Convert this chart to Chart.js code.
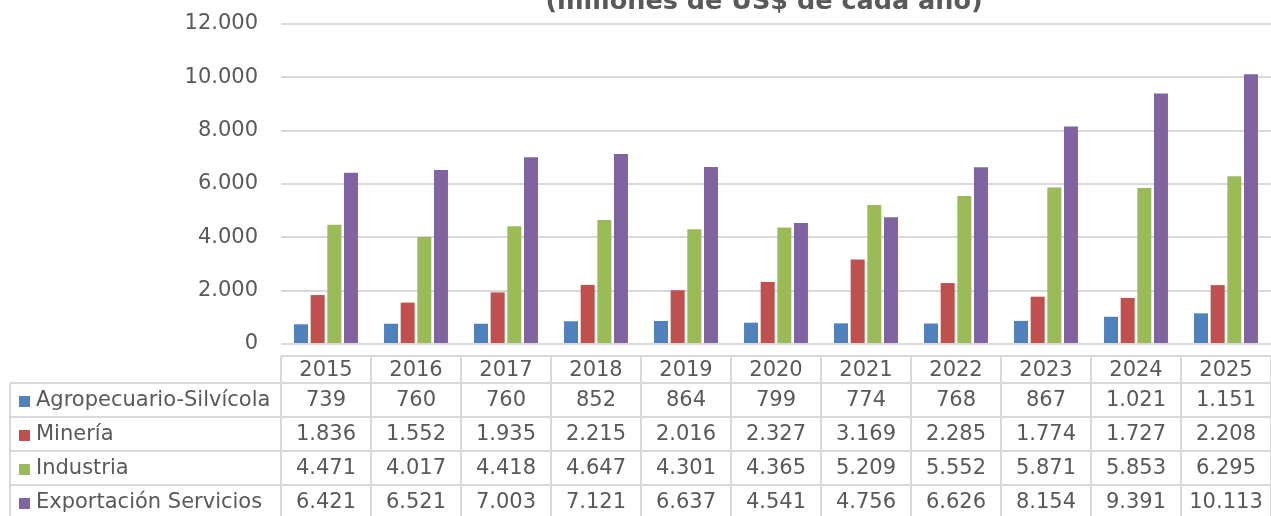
<!DOCTYPE html>
<html>
<head>
<meta charset="utf-8">
<script src="https://cdn.jsdelivr.net/npm/chart.js@4"></script>
<style>
  html, body { margin: 0; padding: 0; background: #fff; }
  #wrap { width: 1271px; height: 516px; position: relative; }
</style>
</head>
<body>
<div id="wrap"><canvas id="exportChart"></canvas></div>
<script>
const years = ["2015", "2016", "2017", "2018", "2019", "2020", "2021", "2022", "2023", "2024", "2025"];
const agro = [739, 760, 760, 852, 864, 799, 774, 768, 867, 1021, 1151];
const mineria = [1836, 1552, 1935, 2215, 2016, 2327, 3169, 2285, 1774, 1727, 2208];
const industria = [4471, 4017, 4418, 4647, 4301, 4365, 5209, 5552, 5871, 5853, 6295];
const servicios = [6421, 6521, 7003, 7121, 6637, 4541, 4756, 6626, 8154, 9391, 10113];
const seriesNames = ["Agropecuario-Silvícola", "Minería", "Industria", "Exportación Servicios"];
const seriesColors = ["#4F81BD", "#C0504D", "#9BBB59", "#8064A2"];
const subtitle = "(millones de US$ de cada año)";

const fmt = v => String(v).replace(/\B(?=(\d{3})+(?!\d))/g, ".");
const FONT = "'DejaVu Sans', Verdana, sans-serif";
const TEXT = "#595959";
const LINE = "#D9D9D9";

// header + data table under the plot, aligned with the x scale
const tablePlugin = {
  id: "dataTable",
  afterDraw(chart) {
    const c = chart.ctx;
    const x = chart.scales.x;
    const n = years.length;
    const colW = x.width / n;
    const left = x.left;
    const right = x.right;
    const headTop = 356;
    const rowsTop = 383;
    const rowH = 34;
    const labelLeft = 10;
    const bottom = rowsTop + rowH * 4 + 10;

    c.save();
    c.strokeStyle = LINE;
    c.lineWidth = 2;
    c.beginPath();
    c.moveTo(left, headTop); c.lineTo(right, headTop);
    for (let r = 0; r <= 4; r++) {
      const y = rowsTop + r * rowH;
      c.moveTo(labelLeft, y); c.lineTo(right, y);
    }
    for (let i = 0; i <= n; i++) {
      const xx = left + i * colW;
      c.moveTo(xx, headTop); c.lineTo(xx, bottom);
    }
    c.moveTo(labelLeft, rowsTop); c.lineTo(labelLeft, bottom);
    c.stroke();

    c.font = "21px " + FONT;
    c.fillStyle = TEXT;
    c.textBaseline = "middle";
    c.textAlign = "center";
    years.forEach((yr, i) => {
      c.fillText(yr, x.getPixelForValue(i), (headTop + rowsTop) / 2 + 1);
    });
    chart.data.datasets.forEach((ds, r) => {
      const cy = rowsTop + r * rowH + 18;
      c.textAlign = "center";
      c.fillStyle = TEXT;
      ds.data.forEach((v, i) => {
        c.fillText(fmt(v), x.getPixelForValue(i), cy);
      });
      c.fillStyle = ds.backgroundColor;
      c.fillRect(19, cy - 5, 11, 11);
      c.fillStyle = TEXT;
      c.textAlign = "left";
      c.fillText(ds.label, 36, cy);
    });

    // clipped title line
    c.font = "bold 25.5px " + FONT;
    c.textAlign = "center";
    c.textBaseline = "alphabetic";
    c.fillStyle = TEXT;
    c.fillText(subtitle, 764, 9);
    c.restore();
  }
};

new Chart(document.getElementById("exportChart"), {
  type: "bar",
  data: {
    labels: years,
    datasets: [agro, mineria, industria, servicios].map((d, i) => ({
      label: seriesNames[i],
      data: d,
      backgroundColor: seriesColors[i],
      borderWidth: 0,
      categoryPercentage: 0.74,
      barPercentage: 0.84
    }))
  },
  options: {
    responsive: true,
    maintainAspectRatio: false,
    animation: false,
    layout: { padding: { left: 0, right: 0, top: 24, bottom: 172 } },
    plugins: {
      legend: { display: false },
      title: { display: false },
      tooltip: { enabled: false }
    },
    scales: {
      x: { display: false },
      y: {
        min: 0,
        max: 12000,
        afterFit(scale) {
          scale.width = 281;
          scale.paddingTop = 10;
          scale.paddingBottom = 10;
        },
        border: { display: false },
        grid: { color: LINE, lineWidth: 2, drawTicks: false },
        ticks: {
          stepSize: 2000,
          padding: 23,
          color: TEXT,
          font: { family: FONT, size: 21 },
          callback: v => fmt(v)
        }
      }
    }
  },
  plugins: [tablePlugin]
});
</script>
</body>
</html>
